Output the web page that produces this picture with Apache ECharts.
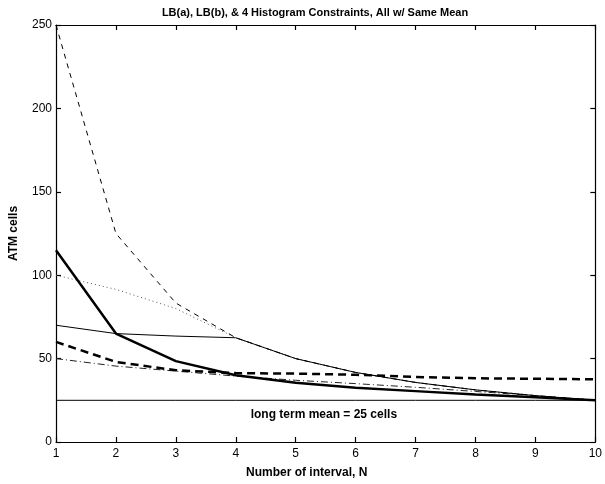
<!DOCTYPE html>
<html>
<head>
<meta charset="utf-8">
<script src="https://cdn.jsdelivr.net/npm/echarts@6/dist/echarts.min.js"></script>
<style>
  html, body { margin: 0; padding: 0; background: #fff; }
  #chart { width: 605px; height: 484px; }
</style>
</head>
<body>
<div id="chart"></div>
<script>
    // number of intervals on the x axis
    var nValues = [1, 2, 3, 4, 5, 6, 7, 8, 9, 10];
    var yTicks = [0, 50, 100, 150, 200, 250];

    // curves
    var thickSolid  = [115, 65, 48.5, 40, 35.5, 32.5, 30.5, 28.5, 26.8, 25];
    var thickDashed = [60, 48, 43, 41.3, 41, 40.3, 39, 38.2, 37.9, 37.6];
    var dashDot     = [50, 45.5, 42.5, 39.5, 37, 35, 32.8, 30.3, 27.8, 25];
    var thinSolid   = [70, 65, 63.5, 62.5, 50, 41.7, 35.7, 31.25, 27.8, 25];
    var thinDashed  = [250, 125, 83.3, 62.5, 50, 41.7, 35.7, 31.25, 27.8, 25];
    var dotted      = [100, 91.5, 80, 62.5, 50, 41.7, 35.7, 31.25, 27.8, 25];
    var meanLine    = [25, 25, 25, 25, 25, 25, 25, 25, 25, 25];

    function pairs(arr) {
        return nValues.map(function (n, i) { return [n, arr[i]]; });
    }

    function lineSeries(name, arr, width, type, color, z) {
        return {
            name: name,
            type: 'line',
            data: pairs(arr),
            symbol: 'none',
            z: z,
            lineStyle: { color: color || '#000', width: width, type: type }
        };
    }

    function innerTick() {
        return { show: true, inside: true, length: 5, lineStyle: { color: '#000', width: 1.2 } };
    }

    var tickStyle = { color: '#000', fontSize: 12, fontFamily: 'Liberation Sans' };
    var boldName = { color: '#000', fontSize: 12, fontWeight: 'bold', fontFamily: 'Liberation Sans' };

    var chart = echarts.init(document.getElementById('chart'));
    chart.setOption({
        animation: false,
        backgroundColor: '#fff',
        title: {
            text: 'LB(a), LB(b), & 4 Histogram Constraints, All w/ Same Mean',
            left: 310,
            top: 2,
            textAlign: 'center',
            textStyle: { color: '#000', fontSize: 11, fontWeight: 'bold', fontFamily: 'Liberation Sans' }
        },
        grid: { left: 53, right: 8, top: 25, bottom: 35 },
        xAxis: [
            {
                type: 'value', min: 1, max: 10, interval: 1,
                name: 'Number of interval, N',
                nameLocation: 'middle',
                nameGap: 25,
                nameTextStyle: Object.assign({ padding: [0, 38, 0, 0] }, boldName),
                axisLine: { show: true, lineStyle: { color: '#000', width: 1.2 } },
                axisTick: innerTick(),
                axisLabel: Object.assign({ margin: 6 }, tickStyle),
                splitLine: { show: false }
            },
            {
                type: 'value', min: 1, max: 10, interval: 1, position: 'top',
                axisLine: { show: true, onZero: false, lineStyle: { color: '#000', width: 1.2 } },
                axisTick: innerTick(),
                axisLabel: { show: false },
                splitLine: { show: false }
            }
        ],
        yAxis: [
            {
                type: 'value', min: yTicks[0], max: yTicks[yTicks.length - 1], interval: 50,
                name: 'ATM cells',
                nameLocation: 'middle',
                nameGap: 36,
                nameTextStyle: boldName,
                axisLine: { show: true, lineStyle: { color: '#000', width: 1.2 } },
                axisTick: innerTick(),
                axisLabel: Object.assign({ margin: 4 }, tickStyle),
                splitLine: { show: false }
            },
            {
                type: 'value', min: yTicks[0], max: yTicks[yTicks.length - 1], interval: 50, position: 'right',
                axisLine: { show: true, onZero: false, lineStyle: { color: '#000', width: 1.2 } },
                axisTick: innerTick(),
                axisLabel: { show: false },
                splitLine: { show: false }
            }
        ],
        series: [
            lineSeries('dotted', dotted, 1, [1, 3], '#555', 2),
            lineSeries('thin dashed', thinDashed, 1, [5, 5], '#000', 3),
            lineSeries('dash-dot', dashDot, 1, [7, 3, 1, 3], '#222', 3),
            lineSeries('thin solid', thinSolid, 1, 'solid', '#000', 4),
            lineSeries('thick dashed', thickDashed, 2.5, [8, 5], '#000', 5),
            lineSeries('thick solid', thickSolid, 2.5, 'solid', '#000', 6),
            Object.assign(lineSeries('mean', meanLine, 1, 'solid', '#000', 4), {
                markPoint: {
                    symbol: 'circle',
                    symbolSize: 0,
                    silent: true,
                    data: [{ coord: [5.47, 25] }],
                    label: {
                        show: true,
                        position: 'bottom',
                        distance: 8,
                        formatter: 'long term mean = 25 cells',
                        color: '#000',
                        fontSize: 12,
                        fontWeight: 'bold',
                        fontFamily: 'Liberation Sans'
                    }
                }
            })
        ]
    });
</script>
</body>
</html>
